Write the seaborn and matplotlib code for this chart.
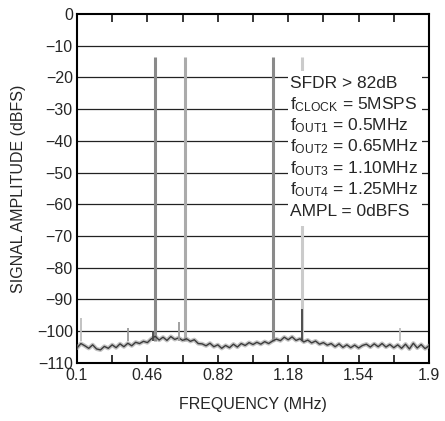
import seaborn as sns
import matplotlib.pyplot as plt
import matplotlib.patches as mpatches
import pandas as pd
import numpy as np

# Noise floor trace, every 0.02 MHz
freq = np.round(np.arange(0.10, 1.9001, 0.02), 2)
noise = [-105.3, -103.9, -104.6, -105.4, -104.3, -105.6, -105.9, -104.8, -105.4, -104.3,
         -105.2, -104.0, -104.9, -103.8, -104.6, -103.5, -103.9, -103.2, -103.6, -102.4,
         -101.6, -102.8, -101.9, -102.9, -101.7, -102.6, -102.1, -102.9, -102.4, -103.2,
         -102.7, -103.9, -104.0, -104.6, -103.8, -104.9, -104.3, -105.4, -104.5, -105.2,
         -104.1, -105.0, -103.9, -104.5, -103.6, -104.2, -103.5, -104.1, -103.3, -103.9,
         -103.1, -102.5, -103.0, -101.9, -102.7, -101.8, -102.9, -102.4, -103.4, -102.8,
         -103.7, -103.1, -104.1, -103.6, -104.4, -103.9, -104.9, -104.0, -105.1, -104.3,
         -105.2, -104.4, -105.3, -104.5, -104.1, -105.0, -104.0, -104.9, -103.9, -105.0,
         -104.2, -105.2, -104.3, -105.4, -104.1, -105.6, -103.8, -105.3, -104.2, -105.5,
         -104.6]

# Output tones
tone_freq = [0.50, 0.65, 1.10, 1.25]
tone_level = [-13.5, -13.5, -13.5, -13.5]
tone_color = ['#8a8a8a', '#ababab', '#8a8a8a', '#cbcbcb']

# Small spurs
spur_freq = [0.12, 0.36, 0.49, 0.62, 1.25, 1.75]
spur_level = [-96, -99, -100, -97, -93, -99]
spur_color = ['#bdbdbd', '#9a9a9a', '#444444', '#9a9a9a', '#444444', '#bdbdbd']

legend_lines = [r'SFDR > 82dB',
                r'$\mathregular{f_{CLOCK}}$ = 5MSPS',
                r'$\mathregular{f_{OUT1}}$ = 0.5MHz',
                r'$\mathregular{f_{OUT2}}$ = 0.65MHz',
                r'$\mathregular{f_{OUT3}}$ = 1.10MHz',
                r'$\mathregular{f_{OUT4}}$ = 1.25MHz',
                r'AMPL = 0dBFS']

df = pd.DataFrame({'freq': freq, 'level': noise})

sns.set_style('white')
plt.rcParams['font.family'] = ['Liberation Sans Narrow', 'Liberation Sans', 'DejaVu Sans']

fig = plt.figure(figsize=(4.45, 4.21), dpi=100)
ax = fig.add_axes([0.173, 0.138, 0.791, 0.829])

# horizontal grid
for g in range(-100, 0, 10):
    ax.axhline(g, color='#222222', lw=0.9, zorder=1)

# tones
ax.vlines(tone_freq, -103, tone_level, colors=tone_color, lw=2.2, zorder=2)

# noise floor
sns.lineplot(data=df, x='freq', y='level', ax=ax, color='#9a9a9a', lw=3, alpha=0.6, zorder=3)
sns.lineplot(data=df, x='freq', y='level', ax=ax, color='#3c3c3c', lw=1.0, zorder=3)

# spurs
ax.vlines(spur_freq, -103, spur_level, colors=spur_color, lw=1.3, zorder=3)

# text block with white background
ax.add_patch(mpatches.Rectangle((1.18, -67.0), 0.685, 49.0, facecolor='white',
                                edgecolor='none', zorder=4))
for i, line in enumerate(legend_lines):
    ax.text(1.19, -23.3 - i * 6.71, line, fontsize=12.5, ha='left', va='baseline', zorder=5)

ax.set_xlim(0.1, 1.9)
ax.set_ylim(-110, 0)
ax.set_xticks([0.1, 0.46, 0.82, 1.18, 1.54, 1.9])
ax.set_xticklabels(['0.1', '0.46', '0.82', '1.18', '1.54', '1.9'])
ax.set_xticks(np.round(np.arange(0.28, 1.9, 0.36), 2), minor=True)
ax.set_yticks(range(-110, 1, 10))
ax.set_yticklabels([str(v).replace('-', '\u2212') for v in range(-110, 1, 10)])
ax.tick_params(axis='x', which='both', direction='in', length=6, width=1.1,
               top=True, bottom=True, color='black', labelsize=11.5, pad=4)
ax.tick_params(axis='y', length=0, labelsize=11.5, pad=3)

for s in ax.spines.values():
    s.set_color('black')
    s.set_linewidth(1.5)

ax.set_xlabel('FREQUENCY (MHz)', fontsize=11.5, labelpad=10)
ax.set_ylabel('SIGNAL AMPLITUDE (dBFS)', fontsize=11.5, labelpad=8)

plt.savefig('out.png', dpi=100)
